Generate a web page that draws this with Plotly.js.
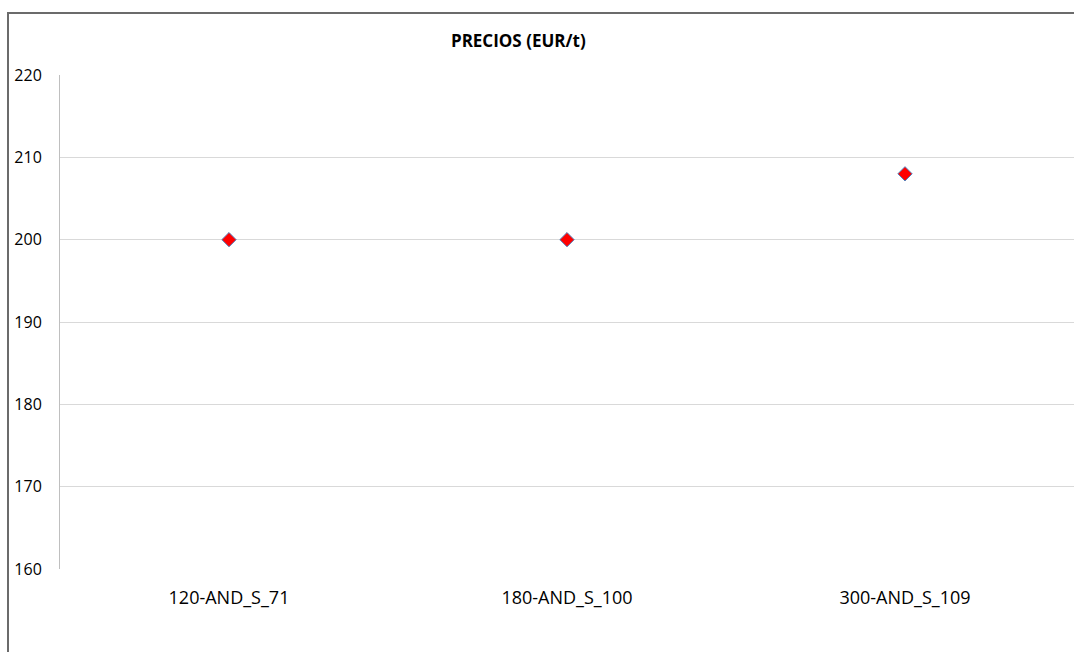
<!DOCTYPE html>
<html>
<head>
<meta charset="utf-8">
<script src="https://cdn.plot.ly/plotly-3.0.1.min.js"></script>
<style>
  html, body { margin: 0; padding: 0; background: #fff; overflow: hidden; }
  #wrap { position: relative; width: 1074px; height: 652px; }
  #chart { position: absolute; left: 0; top: 0; width: 1074px; height: 652px; }
  #frame { position: absolute; left: 7px; top: 12px; width: 1200px; height: 800px;
           border-left: 2px solid #6b6b6b; border-top: 2px solid #6b6b6b; pointer-events: none; }
</style>
</head>
<body>
<div id="wrap">
  <div id="chart"></div>
  <div id="frame"></div>
</div>
<script>
const categories = ["120-AND_S_71", "180-AND_S_100", "300-AND_S_109"];
const prices = [200, 200, 208];
const yTicks = [160, 170, 180, 190, 200, 210, 220];

const trace = {
  x: categories,
  y: prices,
  type: "scatter",
  mode: "markers",
  marker: { symbol: "diamond", size: 11, color: "#ff0000", line: { color: "#4f81bd", width: 1 } },
  hoverinfo: "x+y"
};

const layout = {
  width: 1074,
  height: 652,
  margin: { l: 60, r: 0, t: 75, b: 83 },
  paper_bgcolor: "rgba(0,0,0,0)",
  plot_bgcolor: "#ffffff",
  showlegend: false,
  font: { family: "Open Sans, Liberation Sans, sans-serif", size: 14, color: "#000" },
  title: {
    text: "<b>PRECIOS (EUR/t)</b>",
    x: 0.452, xref: "paper", xanchor: "center",
    y: 0.937, yref: "container", yanchor: "middle",
    font: { family: "Open Sans, Liberation Sans, sans-serif", size: 17, color: "#000" }
  },
  xaxis: {
    type: "category",
    range: [-0.5, 2.5],
    showgrid: false,
    zeroline: false,
    showline: false,
    ticks: "",
    ticklabelstandoff: 16,
    tickfont: { family: "Open Sans, Liberation Sans, sans-serif", size: 18, color: "#000" }
  },
  yaxis: {
    range: [160, 220],
    tickvals: yTicks,
    ticktext: yTicks.map(String),
    showgrid: true,
    gridcolor: "#d9d9d9",
    gridwidth: 1,
    zeroline: false,
    showline: true,
    linecolor: "#bfbfbf",
    linewidth: 1,
    ticks: "",
    ticklabelstandoff: 14,
    tickfont: { family: "Open Sans, Liberation Sans, sans-serif", size: 16, color: "#000" }
  }
};

Plotly.newPlot("chart", [trace], layout, { displayModeBar: false });
</script>
</body>
</html>
